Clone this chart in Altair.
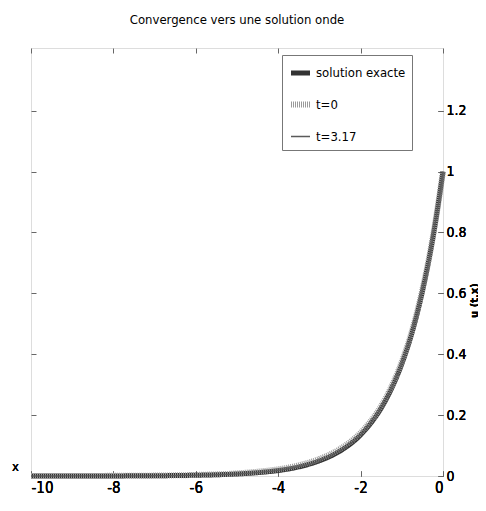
import altair as alt
import pandas as pd

xs = [-10, -9, -8, -7, -6, -5, -4.5, -4, -3.5, -3, -2.5, -2, -1.75, -1.5,
      -1.25, -1, -0.75, -0.5, -0.25, 0]
exact = [0.00005, 0.0001, 0.0003, 0.0009, 0.0025, 0.0067, 0.011, 0.018, 0.030,
         0.050, 0.082, 0.135, 0.174, 0.223, 0.287, 0.368, 0.472, 0.607, 0.779, 1.0]
t0 = [0.0001, 0.0002, 0.0005, 0.0013, 0.0035, 0.0085, 0.014, 0.022, 0.035,
      0.056, 0.089, 0.142, 0.181, 0.230, 0.294, 0.375, 0.478, 0.612, 0.782, 1.0]
t317 = [0.00005, 0.0001, 0.0003, 0.0009, 0.0025, 0.0068, 0.0112, 0.0183, 0.0303,
        0.0505, 0.0825, 0.1355, 0.1745, 0.2235, 0.2875, 0.3685, 0.4725, 0.6075, 0.7792, 1.0]
series_names = ["solution exacte", "t=0", "t=3.17"]
x_ticks = [-10, -8, -6, -4, -2, 0]
y_ticks = [0, 0.2, 0.4, 0.6, 0.8, 1, 1.2]

rows = []
for name, vals in zip(series_names, [exact, t0, t317]):
    for x, v in zip(xs, vals):
        rows.append({"x": x, "u": v, "serie": name})
df = pd.DataFrame(rows)

FONT = "DejaVu Sans Condensed, Liberation Sans Narrow, sans-serif"
W, H = 412, 428

leg = alt.Legend(title=None, orient="none", legendX=251, legendY=7,
                 symbolType="stroke", symbolSize=361,
                 labelFont=FONT, labelFontSize=13, labelColor="#000",
                 padding=6, rowPadding=9, labelOffset=3,
                 fillColor="white", strokeColor="#777", labelLimit=300)

xscale = alt.Scale(domain=[-10, 0], nice=False)
yscale = alt.Scale(domain=[0, 1.406], nice=False, zero=False)

base = alt.Chart(df).mark_line(interpolate="monotone").encode(
    x=alt.X("x:Q", scale=xscale,
            axis=alt.Axis(orient="bottom", values=x_ticks, offset=-5, tickSize=5,
                          domain=False, tickColor="#666", labelFontSize=15,
                          labelColor="#000", labelPadding=4, labelFont=FONT,
                          labelExpr="'' + datum.value",
                          title="x", titleFont=FONT, titleFontSize=13,
                          titleFontWeight="normal", titleX=-16, titleY=-5,
                          titleAlign="center", titleBaseline="middle", grid=False)),
    y=alt.Y("u:Q", scale=yscale,
            axis=alt.Axis(orient="right", values=y_ticks, offset=-5, tickSize=5,
                          domain=False, tickColor="#666", labelFontSize=14,
                          labelColor="#000", labelPadding=3, labelFont=FONT,
                          labelExpr="'' + datum.value",
                          title="u (t,x)", titleFont="DejaVu Sans", titleFontSize=10,
                          titleFontWeight="bold", titleAngle=270, titleY=252,
                          titleX=36, titleAlign="center",
                          titleBaseline="middle", grid=False)),
    color=alt.Color("serie:N", scale=alt.Scale(domain=series_names,
                    range=["#333333", "#9a9a9a", "#5a5a5a"]), legend=leg),
    strokeWidth=alt.StrokeWidth("serie:N", scale=alt.Scale(type="ordinal",
                                domain=series_names, range=[5, 6, 1.3]), legend=leg),
    strokeDash=alt.StrokeDash("serie:N", scale=alt.Scale(domain=series_names,
                              range=[[1, 0], [1, 1], [1, 0]]), legend=leg),
    order=alt.Order("x:Q"),
)

l_exact = base.transform_filter(alt.datum.serie == "solution exacte")
l_t0 = base.transform_filter(alt.datum.serie == "t=0")
l_t317 = base.transform_filter(alt.datum.serie == "t=3.17")

frame = alt.Chart(df).mark_line(opacity=0).encode(
    x=alt.X("x:Q", scale=xscale,
            axis=alt.Axis(orient="top", values=x_ticks, offset=-5, tickSize=5,
                          domain=False, labels=False, tickColor="#666", title=None,
                          grid=False)),
    y=alt.Y("u:Q", scale=yscale,
            axis=alt.Axis(orient="left", values=y_ticks, offset=-5, tickSize=5,
                          domain=False, labels=False, tickColor="#666", title=None,
                          grid=False)),
    detail="serie:N",
)

chart = alt.layer(l_exact, l_t0, l_t317, frame).resolve_axis(
    x="independent", y="independent"
).properties(
    width=W, height=H,
    title=alt.TitleParams("Convergence vers une solution onde", font=FONT, fontSize=13,
                          fontWeight="normal", color="#000", offset=21, anchor="middle"),
    autosize=alt.AutoSizeParams(type="none"),
    padding={"left": 23, "top": 40, "right": 35, "bottom": 26},
).configure_view(stroke="#808080", strokeWidth=1).configure(background="white")

chart.save("out.html", embed_options={"renderer": "svg", "actions": False})
